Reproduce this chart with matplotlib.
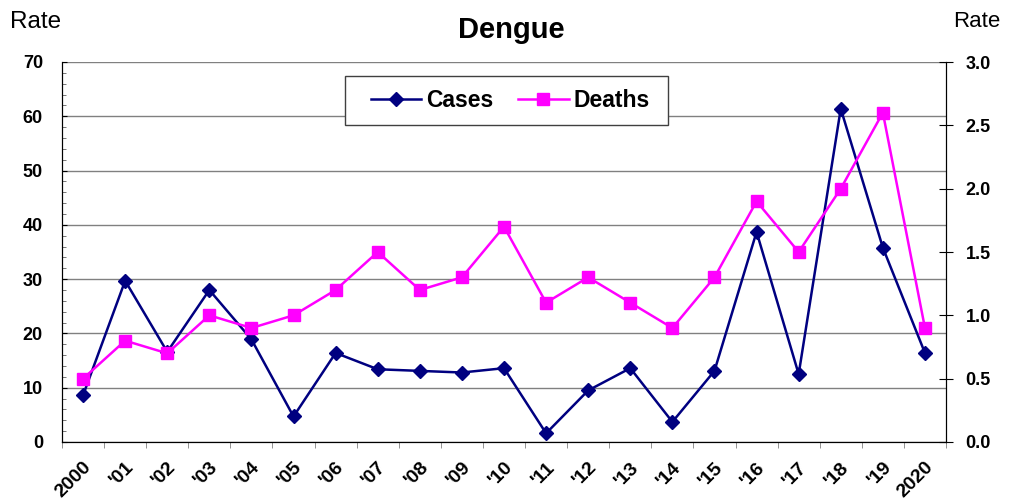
import matplotlib
matplotlib.use("Agg")
import matplotlib.pyplot as plt
from matplotlib.ticker import MultipleLocator, FixedLocator, FormatStrFormatter
from matplotlib.patches import Rectangle

plt.rcParams['font.family'] = ['Liberation Sans', 'DejaVu Sans']

years = ["2000", "'01", "'02", "'03", "'04", "'05", "'06", "'07", "'08", "'09", "'10",
         "'11", "'12", "'13", "'14", "'15", "'16", "'17", "'18", "'19", "2020"]
cases = [8.6, 29.7, 16.6, 28.0, 18.9, 4.7, 16.4, 13.4, 13.1, 12.8, 13.6,
         1.6, 9.5, 13.6, 3.7, 13.1, 38.7, 12.5, 61.4, 35.8, 16.4]
deaths = [0.5, 0.8, 0.7, 1.0, 0.9, 1.0, 1.2, 1.5, 1.2, 1.3, 1.7,
          1.1, 1.3, 1.1, 0.9, 1.3, 1.9, 1.5, 2.0, 2.6, 0.9]

W, H = 1010, 503
fig = plt.figure(figsize=(W / 100, H / 100), dpi=100)
ax = fig.add_axes([62 / W, 1 - 442 / H, (946 - 62) / W, (442 - 62) / H])
ax2 = ax.twinx()

x = list(range(len(years)))
l1, = ax.plot(x, cases, color='#000080', lw=1.8, marker='D', ms=7, label='Cases', zorder=3)
l2, = ax2.plot(x, deaths, color='#FF00FF', lw=1.8, marker='s', ms=8, label='Deaths', zorder=3)

ax.set_xlim(-0.5, len(years) - 0.5)
ax.set_ylim(0, 70)
ax2.set_ylim(0, 3.0)

ax.yaxis.set_major_locator(MultipleLocator(10))
ax.yaxis.set_minor_locator(MultipleLocator(2))
ax.grid(axis='y', which='major', color='#808080', lw=1)
ax.set_axisbelow(True)

ax.set_xticks(x)
ax.set_xticklabels(years, rotation=45, ha='right', rotation_mode='anchor',
                   fontsize=14, fontweight='bold')
ax.xaxis.set_minor_locator(FixedLocator([i - 0.5 for i in range(len(years) + 1)]))
ax.tick_params(axis='x', which='major', length=0, pad=12)
ax.tick_params(axis='x', which='minor', length=4.3, color='#808080', direction='out')

ax.tick_params(axis='y', which='major', direction='in', length=3.5, labelsize=13, pad=13.7)
ax.tick_params(axis='y', which='minor', direction='in', length=3, color='#606060')
for lab in ax.get_yticklabels():
    lab.set_fontweight('bold')

ax2.yaxis.set_major_locator(MultipleLocator(0.5))
ax2.yaxis.set_major_formatter(FormatStrFormatter('%.1f'))
ax2.tick_params(axis='y', direction='inout', length=9.4, labelsize=13, pad=9.5)
for lab in ax2.get_yticklabels():
    lab.set_fontweight('bold')

for a in (ax, ax2):
    a.spines['top'].set_visible(False)
    for s in ('left', 'right', 'bottom'):
        a.spines[s].set_color('black')
    a.patch.set_visible(False)

# legend frame drawn manually
fig.patches.append(Rectangle((345 / W, 1 - 125 / H), (668 - 345) / W, (125 - 76) / H,
                             transform=fig.transFigure, facecolor='white',
                             edgecolor='#404040', lw=1, zorder=4))
leg = fig.legend(handles=[l1, l2], loc='center', bbox_to_anchor=(510 / W, 1 - 100.5 / H),
                 ncol=2, frameon=False, prop={'weight': 'bold', 'size': 16.5},
                 handlelength=2.2, borderpad=0, columnspacing=1.1, handletextpad=0.2)
leg.set_zorder(5)

fig.text(511 / W, 1 - 38 / H, 'Dengue', ha='center', va='baseline', fontsize=21, fontweight='bold')
fig.text(10 / W, 1 - 28 / H, 'Rate', ha='left', va='baseline', fontsize=17.5)
fig.text(1000 / W, 1 - 27 / H, 'Rate', ha='right', va='baseline', fontsize=16)

fig.savefig('out.png', dpi=100)
